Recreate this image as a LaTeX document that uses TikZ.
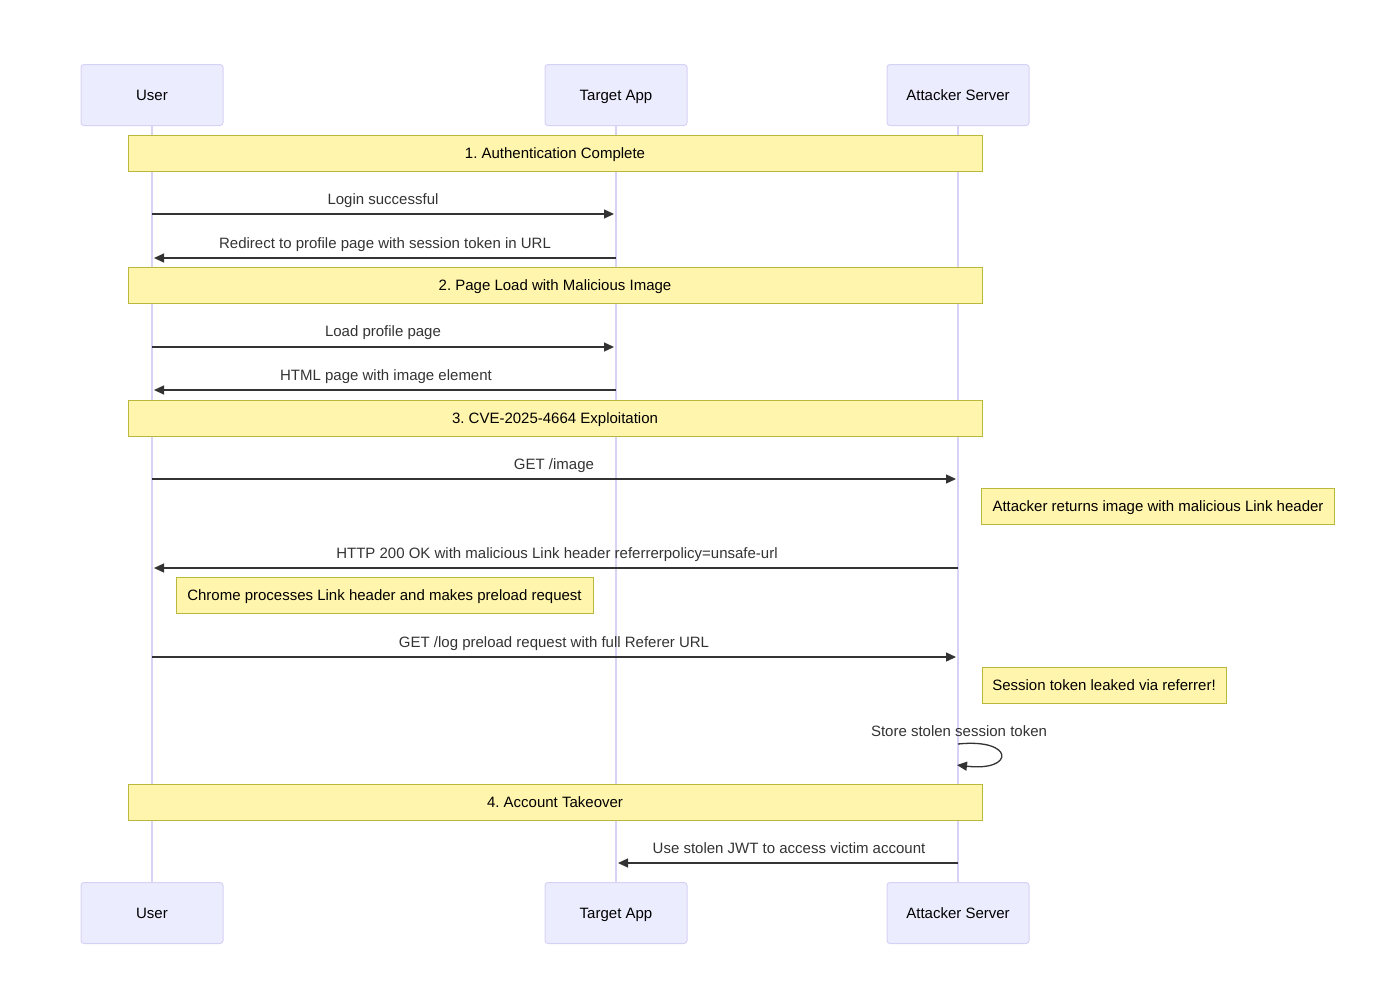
\documentclass[tikz,border=0pt]{standalone}
\usepackage{fontspec}
\setmainfont{Liberation Sans}
\frenchspacing
\usetikzlibrary{arrows.meta}
\definecolor{actfill}{HTML}{ECECFF}
\definecolor{actdraw}{HTML}{D6D2F5}
\definecolor{lifeline}{HTML}{D9D1F6}
\definecolor{notefill}{HTML}{FFF5AD}
\definecolor{notedraw}{HTML}{B8B83C}
\definecolor{ink}{HTML}{333333}
\tikzset{
  txt/.style={font=\fontsize{15}{17}\selectfont, text height=12pt, text depth=1pt},
  actor/.style={txt, draw=actdraw, fill=actfill, line width=1pt, rounded corners=3pt, minimum width=142pt, minimum height=61pt, inner sep=0pt, text=black},
  notebox/.style={txt, draw=notedraw, fill=notefill, line width=1pt, inner sep=0pt, minimum height=36pt, text=black},
  lbl/.style={txt, text=ink, inner sep=0pt},
  msg/.style={draw=ink, line width=1.3pt, -{Triangle[length=10pt,width=9pt]}},
  life/.style={draw=lifeline, line width=1.5pt}
}
\begin{document}
\begin{tikzpicture}[x=1pt,y=-1pt]
\useasboundingbox (0,0) rectangle (1390,1004);
% actors
\node[actor] (u1) at (152,95) {User};
\node[actor] (t1) at (616,95) {Target App};
\node[actor] (a1) at (958,95) {Attacker Server};
\node[actor] (u2) at (152,913) {User};
\node[actor] (t2) at (616,913) {Target App};
\node[actor] (a2) at (958,913) {Attacker Server};
% lifelines
\draw[life] (u1.south) -- (u2.north);
\draw[life] (t1.south) -- (t2.north);
\draw[life] (a1.south) -- (a2.north);
% section notes
\node[notebox, minimum width=854pt] (n1) at (555,153) {1. Authentication Complete};
\node[notebox, minimum width=854pt] (n2) at (555,285) {2. Page Load with Malicious Image};
\node[notebox, minimum width=854pt] (n3) at (555,418) {3. CVE-2025-4664 Exploitation};
\node[notebox, minimum width=854pt] (n4) at (555,802) {4. Account Takeover};
% side notes
\node[notebox, minimum width=353pt] (n5) at (1158,506) {Attacker returns image with malicious Link header};
\node[notebox, minimum width=417pt] (n6) at (384.5,595) {Chrome processes Link header and makes preload request};
\node[notebox, minimum width=244pt] (n7) at (1104,685) {Session token leaked via referrer!};
% message coordinates
\coordinate (m1s) at (152,214); \coordinate (m1e) at (614,214);
\coordinate (m2s) at (616,258); \coordinate (m2e) at (154,258);
\coordinate (m3s) at (152,347); \coordinate (m3e) at (614,347);
\coordinate (m4s) at (616,390); \coordinate (m4e) at (154,390);
\coordinate (m5s) at (152,479); \coordinate (m5e) at (956,479);
\coordinate (m6s) at (958,568); \coordinate (m6e) at (154,568);
\coordinate (m7s) at (152,657); \coordinate (m7e) at (956,657);
\coordinate (m8s) at (958,744); \coordinate (m8e) at (957,765);
\coordinate (m9s) at (958,863); \coordinate (m9e) at (618,863);
% messages
\draw[msg] (m1s) -- (m1e);
\node[lbl] (l1) at (383,199) {Login successful};
\draw[msg] (m2s) -- (m2e);
\node[lbl] (l2) at (385,243) {Redirect to profile page with session token in URL};
\draw[msg] (m3s) -- (m3e);
\node[lbl] (l3) at (383,331) {Load profile page};
\draw[msg] (m4s) -- (m4e);
\node[lbl] (l4) at (386,375) {HTML page with image element};
\draw[msg] (m5s) -- (m5e);
\node[lbl] (l5) at (554,464) {GET /image};
\draw[msg] (m6s) -- (m6e);
\node[lbl] (l6) at (557,553) {HTTP 200 OK with malicious Link header referrerpolicy=unsafe-url};
\draw[msg] (m7s) -- (m7e);
\node[lbl] (l7) at (554,642) {GET /log preload request with full Referer URL};
\draw[msg] (m8s) .. controls (1015,738) and (1015,772) .. (m8e);
\node[lbl] (l8) at (959,731) {Store stolen session token};
\draw[msg] (m9s) -- (m9e);
\node[lbl] (l9) at (789,848) {Use stolen JWT to access victim account};
\end{tikzpicture}
\end{document}
